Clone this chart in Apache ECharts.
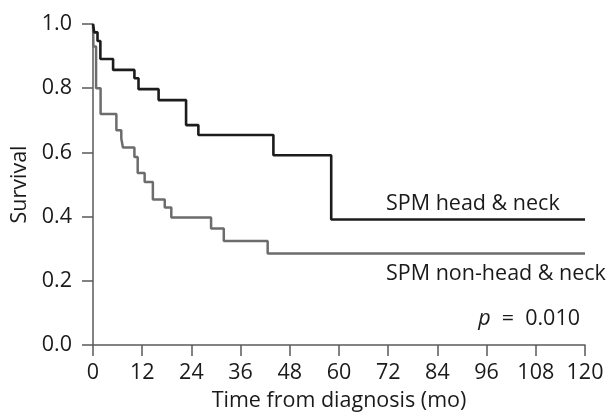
<!DOCTYPE html>
<html>
<head>
<meta charset="utf-8">
<script src="https://cdn.jsdelivr.net/npm/echarts@6/dist/echarts.min.js"></script>
<style>
  html, body { margin: 0; padding: 0; background: #fff; }
  #chart { width: 610px; height: 417px; }
</style>
</head>
<body>
<div id="chart"></div>
<script>
// Kaplan-Meier curves (months, survival)
var hnTime = [0, 0.3, 1.1, 1.8, 4.9, 10.1, 11.1, 16.0, 22.7, 25.7, 44.0, 58.1, 120];
var hnSurv = [1.0, 0.974, 0.947, 0.891, 0.857, 0.831, 0.797, 0.763, 0.685, 0.654, 0.591, 0.391, 0.391];

var nhTime = [0, 0.1, 0.75, 1.85, 5.7, 6.9, 7.3, 10.1, 10.9, 12.6, 14.6, 17.5, 19.1, 28.8, 31.9, 42.6, 120];
var nhSurv = [1.0, 0.93, 0.80, 0.72, 0.669, 0.643, 0.615, 0.586, 0.536, 0.508, 0.453, 0.428, 0.397, 0.363, 0.324, 0.285, 0.285];

var xTicks = [0, 12, 24, 36, 48, 60, 72, 84, 96, 108, 120];
var yTicks = [0.0, 0.2, 0.4, 0.6, 0.8, 1.0];

function pairs(t, s) {
    var out = [];
    for (var i = 0; i < t.length; ++i) {
        out.push([t[i], s[i]]);
    }
    return out;
}

var FONT = '"Open Sans"';
var FS = 21.5;
var axisColor = '#5a5a5a';
var textColor = '#1a1a1a';

var mychart = echarts.init(document.getElementById('chart'), null, { renderer: 'canvas' });

var option = {
    backgroundColor: '#fff',
    animation: false,
    grid: {
        left: 93,
        right: 25,
        top: 24,
        bottom: 72
    },
    xAxis: {
        type: 'value',
        min: xTicks[0],
        max: xTicks[xTicks.length - 1],
        interval: 12,
        name: 'Time from diagnosis (mo)',
        nameLocation: 'middle',
        nameGap: 45,
        nameTextStyle: { fontFamily: FONT, fontSize: FS, color: textColor },
        axisLine: { show: true, lineStyle: { color: axisColor, width: 1.5 } },
        axisTick: { show: true, length: 11, lineStyle: { color: axisColor, width: 1.5 } },
        axisLabel: { margin: 17, fontFamily: FONT, fontSize: FS, color: textColor },
        splitLine: { show: false }
    },
    yAxis: {
        type: 'value',
        min: yTicks[0],
        max: yTicks[yTicks.length - 1],
        interval: 0.2,
        name: 'Survival',
        nameLocation: 'middle',
        nameGap: 62,
        nameTextStyle: { fontFamily: FONT, fontSize: FS, color: textColor },
        axisLine: { show: true, lineStyle: { color: axisColor, width: 1.5 } },
        axisTick: { show: true, length: 11, lineStyle: { color: axisColor, width: 1.5 } },
        axisLabel: {
            margin: 21, fontFamily: FONT, fontSize: FS, color: textColor,
            formatter: function (v) { return v.toFixed(1); }
        },
        splitLine: { show: false }
    },
    series: [
        {
            name: 'SPM non-head & neck',
            type: 'line',
            step: 'end',
            symbol: 'none',
            data: pairs(nhTime, nhSurv),
            lineStyle: { color: '#6c6c6c', width: 2.5 },
            z: 2
        },
        {
            name: 'SPM head & neck',
            type: 'line',
            step: 'end',
            symbol: 'none',
            data: pairs(hnTime, hnSurv),
            lineStyle: { color: '#1c1c1c', width: 2.6 },
            z: 3
        }
    ],
    graphic: [
        {
            type: 'text', left: 386, top: 193,
            style: { text: 'SPM head & neck', font: FS + 'px ' + FONT, fill: textColor }
        },
        {
            type: 'text', left: 386, top: 263,
            style: { text: 'SPM non-head & neck', font: FS + 'px ' + FONT, fill: textColor }
        },
        {
            type: 'text', right: 30, top: 308,
            style: {
                rich: {
                    i: { fontFamily: FONT, fontSize: FS, fontStyle: 'italic', fill: textColor },
                    n: { fontFamily: FONT, fontSize: FS, fill: textColor }
                },
                text: '{i|p}{n|  =  0.010}'
            }
        }
    ]
};

mychart.setOption(option);
</script>
</body>
</html>
